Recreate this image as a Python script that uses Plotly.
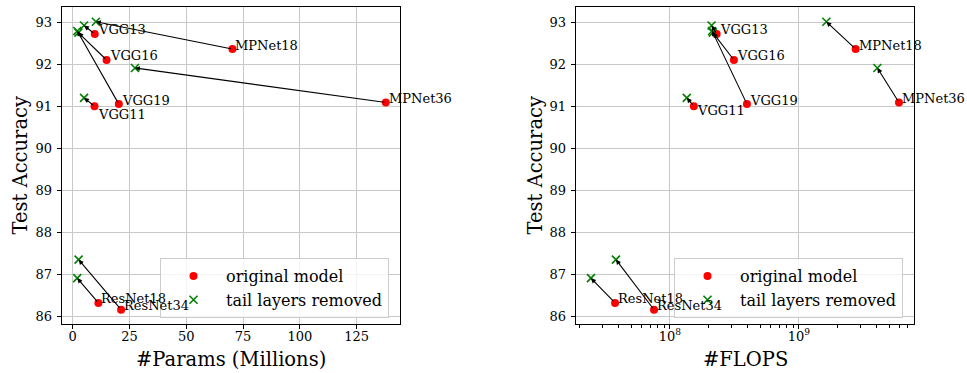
import math
import plotly.graph_objects as go

# ---------------- data ----------------
models = ["VGG11", "VGG13", "VGG16", "VGG19", "ResNet18", "ResNet34", "MPNet18", "MPNet36"]
acc_orig = [91.01, 92.73, 92.11, 91.06, 86.33, 86.17, 92.37, 91.10]
acc_tail = [91.21, 92.93, 92.76, 92.80, 86.92, 87.36, 93.02, 91.92]
params_orig = [9.6, 9.7, 14.9, 20.3, 11.3, 21.3, 70.3, 137.8]
params_tail = [5.0, 5.0, 2.5, 2.0, 2.0, 2.6, 10.2, 27.4]
flops_orig = [1.53e8, 2.30e8, 3.13e8, 3.95e8, 3.75e7, 7.52e7, 2.75e9, 5.96e9]
flops_tail = [1.35e8, 2.10e8, 2.15e8, 2.12e8, 2.44e7, 3.81e7, 1.63e9, 4.05e9]
y_ticks = [86, 87, 88, 89, 90, 91, 92, 93]
x_ticks_params = [0, 25, 50, 75, 100, 125]
x_ticks_flops = [1e8, 1e9]
x_ticktext_flops = ["10<sup>8</sup>", "10<sup>9</sup>"]

FONT = "DejaVu Serif"
RED = "#ff0000"
GREEN = "#008000"
GRID = "#c8c8c8"

fig = go.Figure()

panels = [
    ("x", "y", params_orig, params_tail, False, "legend"),
    ("x2", "y2", flops_orig, flops_tail, True, "legend2"),
]

annotations = []
for xa, ya, xo, xt, is_log, leg in panels:
    fig.add_trace(go.Scatter(
        x=xo, y=acc_orig, mode="markers", name="original model",
        marker=dict(color=RED, size=8, symbol="circle"),
        xaxis=xa, yaxis=ya, legend=leg, showlegend=True))
    fig.add_trace(go.Scatter(
        x=xt, y=acc_tail, mode="markers", name="tail layers removed",
        marker=dict(color=GREEN, size=8, symbol="x-thin",
                    line=dict(color=GREEN, width=1.6)),
        xaxis=xa, yaxis=ya, legend=leg, showlegend=True))
    conv = (lambda v: math.log10(v)) if is_log else (lambda v: v)
    for i, m in enumerate(models):
        annotations.append(dict(
            x=conv(xt[i]), y=acc_tail[i], ax=conv(xo[i]), ay=acc_orig[i],
            xref=xa, yref=ya, axref=xa, ayref=ya, text="",
            showarrow=True, arrowhead=2, arrowsize=0.9, arrowwidth=1.1,
            arrowcolor="black", standoff=0, startstandoff=0))
        yshift = 4
        if m == "VGG11":
            yshift = -8 if not is_log else -4
        annotations.append(dict(
            x=conv(xo[i]), y=acc_orig[i], xref=xa, yref=ya, text=m,
            showarrow=False, xanchor="left", yanchor="middle",
            xshift=1, yshift=yshift,
            font=dict(family=FONT, size=13, color="black")))

# axis titles
title_font = dict(family=FONT, size=19.5, color="black")
annotations += [
    dict(text="Test Accuracy", x=20 / 967, y=1 - 165.5 / 373, xref="paper", yref="paper",
         xanchor="center", yanchor="middle", textangle=-90, showarrow=False, font=title_font),
    dict(text="Test Accuracy", x=535 / 967, y=1 - 165.5 / 373, xref="paper", yref="paper",
         xanchor="center", yanchor="middle", textangle=-90, showarrow=False, font=title_font),
    dict(text="#Params (Millions)", x=231 / 967, y=1 - 359 / 373, xref="paper", yref="paper",
         xanchor="center", yanchor="middle", showarrow=False, font=title_font),
    dict(text="#FLOPS", x=745 / 967, y=1 - 359 / 373, xref="paper", yref="paper",
         xanchor="center", yanchor="middle", showarrow=False, font=title_font),
]

axis_common = dict(
    showline=True, linecolor="black", linewidth=1, mirror=True,
    ticks="outside", ticklen=4, tickwidth=1, tickcolor="black",
    showgrid=True, gridcolor=GRID, gridwidth=1, zeroline=False,
    tickfont=dict(family=FONT, size=13, color="black"),
)
ydom = [1 - 324 / 373, 1 - 7 / 373]

legend_common = dict(
    xanchor="left", yanchor="bottom", itemwidth=55,
    bgcolor="rgba(255,255,255,0.8)", bordercolor="#cccccc", borderwidth=1,
    font=dict(family=FONT, size=16, color="black"),
)

minor_log_ticks = [m * 10 ** e for e in range(7, 10) for m in range(2, 10)]

fig.update_layout(
    width=967, height=373,
    margin=dict(l=0, r=0, t=0, b=0),
    paper_bgcolor="white", plot_bgcolor="white",
    xaxis=dict(domain=[61.7 / 967, 400 / 967], range=[-4.84, 144.06],
               tickvals=x_ticks_params, anchor="y", ticklabelstandoff=-4, **axis_common),
    yaxis=dict(domain=ydom, range=[85.83, 93.37], tickvals=y_ticks, anchor="x",
               ticklabelstandoff=2, **axis_common),
    xaxis2=dict(domain=[575.7 / 967, 914.3 / 967], type="log", range=[7.269, 9.894],
                tickvals=x_ticks_flops, ticktext=x_ticktext_flops, anchor="y2",
                ticklabelstandoff=-4,
                minor=dict(ticks="outside", ticklen=2.5, tickwidth=0.8, tickcolor="black",
                           tickvals=minor_log_ticks, showgrid=False),
                **axis_common),
    yaxis2=dict(domain=ydom, range=[85.83, 93.37], tickvals=y_ticks, anchor="x2",
                ticklabelstandoff=2, **axis_common),
    legend=dict(x=160 / 967, y=1 - 318 / 373, **legend_common),
    legend2=dict(x=674 / 967, y=1 - 318 / 373, **legend_common),
    annotations=annotations,
    showlegend=True,
)

fig.write_html("out.html", config={"displayModeBar": False},
               post_script="document.body.style.margin='0px';document.body.style.overflow='hidden';")
